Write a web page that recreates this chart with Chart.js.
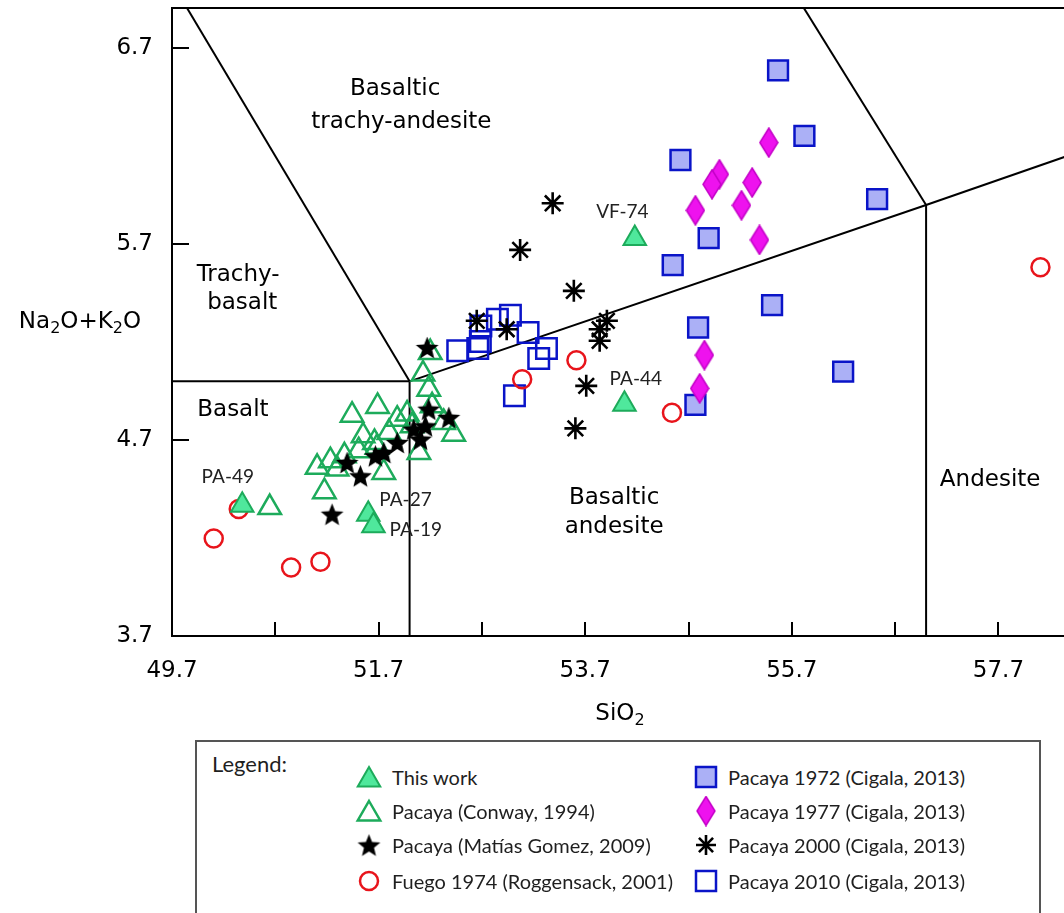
<!DOCTYPE html>
<html><head><meta charset="utf-8">
<script src="https://cdn.jsdelivr.net/npm/chart.js@4/dist/chart.umd.min.js"></script>
<style>
html,body{margin:0;padding:0;background:#fff;width:1064px;height:913px;overflow:hidden;}
#chart{position:absolute;left:0;top:0;}
.axt{position:absolute;font-family:"DejaVu Sans";font-size:23px;color:#000;transform:translate(-50%,-50%);white-space:nowrap;line-height:28px;}
.axt sub{font-size:16px;vertical-align:-5px;line-height:0;}
#legend{position:absolute;left:195px;top:740px;width:846px;height:200px;border:2px solid #555;box-sizing:border-box;font-family:Lato;font-size:20px;color:#1f1f1f;}
#legend .t{position:absolute;line-height:24px;white-space:nowrap;}
#legend canvas{position:absolute;}
</style></head>
<body>
<canvas id="chart" width="1064" height="740"></canvas>
<div class="axt" style="left:620px;top:712px;">SiO<sub>2</sub></div>
<div class="axt" style="left:80px;top:320px;">Na<sub>2</sub>O+K<sub>2</sub>O</div>
<div id="legend"></div>
<script>
// ---------------- DATA ----------------
const xTicks = [49.7, 50.7, 51.7, 52.7, 53.7, 54.7, 55.7, 56.7, 57.7];
const xTickLabels = ['49.7', '', '51.7', '', '53.7', '', '55.7', '', '57.7'];
const yTicks = [3.7, 4.7, 5.7, 6.7];
const yTickLabels = ['3.7', '4.7', '5.7', '6.7'];

// This work (filled green triangles)
const thisWorkSiO2 = [50.38, 51.60, 51.65, 54.18, 54.08];
const thisWorkAlk  = [4.368, 4.322, 4.263, 5.729, 4.883];
const thisWorkIds  = ['PA-49', 'PA-27', 'PA-19', 'VF-74', 'PA-44'];

// Pacaya (Conway, 1994) open triangles
const conwaySiO2 = [50.646, 51.175, 51.105, 51.233, 51.369, 51.443, 51.69, 51.55, 51.66, 51.75, 51.88, 51.976, 51.80, 51.685, 52.09, 52.185, 52.13, 52.218, 52.427, 52.2, 51.298, 51.507, 52.33, 52.024];
const conwayAlk  = [4.356, 4.437, 4.561, 4.595, 4.62, 4.827, 4.872, 4.722, 4.688, 4.535, 4.807, 4.833, 4.739, 4.663, 4.637, 4.96, 5.037, 4.875, 4.73, 5.147, 4.552, 4.646, 4.79, 4.773];

// Pacaya (Matías Gomez, 2009) stars
const gomezSiO2 = [51.25, 51.395, 51.524, 51.669, 51.75, 51.88, 52.105, 52.04, 52.153, 52.185, 52.38, 52.17];
const gomezAlk  = [4.322, 4.586, 4.518, 4.62, 4.637, 4.688, 4.705, 4.756, 4.773, 4.858, 4.816, 5.173];

// Fuego 1974 (Roggensack, 2001) circles
const fuegoSiO2 = [50.346, 50.104, 50.853, 51.137, 53.09, 53.615, 54.54, 58.107];
const fuegoAlk  = [4.348, 4.198, 4.05, 4.079, 5.011, 5.108, 4.84, 5.583];

// Pacaya 1972 (Cigala, 2013) filled squares
const p1972SiO2 = [55.567, 55.822, 54.622, 56.526, 54.895, 54.547, 55.509, 54.793, 56.197, 54.767];
const p1972Alk  = [6.588, 6.253, 6.13, 5.93, 5.731, 5.593, 5.389, 5.275, 5.05, 4.88];

// Pacaya 1977 (Cigala, 2013) diamonds
const p1977SiO2 = [55.477, 54.999, 54.928, 55.316, 54.767, 55.213, 55.387, 54.854, 54.808];
const p1977Alk  = [6.219, 6.057, 6.006, 6.015, 5.873, 5.899, 5.722, 5.134, 4.964];

// Pacaya 2000 (Cigala, 2013) asterisks
const p2000SiO2 = [53.385, 53.07, 53.59, 52.65, 52.94, 53.91, 53.84, 53.84, 53.71, 53.605];
const p2000Alk  = [5.909, 5.671, 5.462, 5.309, 5.266, 5.309, 5.266, 5.207, 4.977, 4.76];

// Pacaya 2010 (Cigala, 2013) open squares
const p2010SiO2 = [52.466, 52.66, 52.685, 52.69, 52.85, 52.976, 53.147, 53.325, 53.25, 53.015];
const p2010Alk  = [5.156, 5.168, 5.204, 5.283, 5.317, 5.338, 5.25, 5.168, 5.117, 4.926];

// TAS field boundaries (SiO2, Na2O+K2O)
const tasBoundaries = [
  [[49.7, 5.0], [52, 5.0]],
  [[52, 3.7], [52, 5.0]],
  [[52, 5.0], [49.4, 7.3]],
  [[52, 5.0], [57, 5.9]],
  [[57, 3.7], [57, 5.9]],
  [[57, 5.9], [53, 9.3]],
  [[57, 5.9], [63, 7.0]]
];
const fieldNames = ['Basaltic', 'trachy-andesite', 'Trachy-', 'basalt', 'Basalt', 'Basaltic', 'andesite', 'Andesite'];

// ---------------- STYLE / LAYOUT ----------------
const fieldAnchors = [[51.86, 6.492], [51.92, 6.324], [50.34, 5.543], [50.38, 5.40], [50.29, 4.854], [53.98, 4.404], [53.98, 4.256], [57.62, 4.496]];
const idAnchors = [[50.24, 4.512], [51.96, 4.394], [52.06, 4.241], [54.06, 5.864], [54.19, 5.012]];

const GREEN = '#1dab5b', GREENFILL = '#4fe89c', RED = '#e8141b', BLUE = '#0a14c8', BLUEFILL = '#abb0f6', MAG = '#ee12ee', MAGB = '#c400c8';

function pts(xs, ys) { return xs.map((x, i) => ({x: x, y: ys[i]})); }

function makeStar(size, R, r) {
  const c = document.createElement('canvas'); c.width = size; c.height = size;
  const g = c.getContext('2d'); g.beginPath();
  for (let i = 0; i < 10; i++) {
    const a = -Math.PI / 2 + i * Math.PI / 5, rr = i % 2 ? r : R;
    g.lineTo(size / 2 + rr * Math.cos(a), size / 2 + 1.2 + rr * Math.sin(a));
  }
  g.closePath(); g.fillStyle = '#000'; g.fill(); return c;
}
function makeDiamond(w, h) {
  const c = document.createElement('canvas'); c.width = w; c.height = h;
  const g = c.getContext('2d'); g.beginPath();
  g.moveTo(w / 2, 1); g.lineTo(w - 1, h / 2); g.lineTo(w / 2, h - 1); g.lineTo(1, h / 2); g.closePath();
  g.fillStyle = MAG; g.fill(); g.lineWidth = 1.5; g.strokeStyle = MAGB; g.stroke(); return c;
}
const starImg = makeStar(25, 12, 5.3);
const diamondImg = makeDiamond(20, 31);

const datasets = [
  {label: 'This work', data: pts(thisWorkSiO2, thisWorkAlk), pointStyle: 'triangle', pointRadius: 13, backgroundColor: GREENFILL, borderColor: GREEN, borderWidth: 2},
  {label: 'Pacaya (Matías Gomez, 2009)', data: pts(gomezSiO2, gomezAlk), pointStyle: starImg, pointRadius: 10},
  {label: 'Pacaya (Conway, 1994)', data: pts(conwaySiO2, conwayAlk), pointStyle: 'triangle', pointRadius: 13, backgroundColor: 'rgba(0,0,0,0)', borderColor: GREEN, borderWidth: 2.5},
  {label: 'Fuego 1974 (Roggensack, 2001)', data: pts(fuegoSiO2, fuegoAlk), pointStyle: 'circle', pointRadius: 9, backgroundColor: 'rgba(0,0,0,0)', borderColor: RED, borderWidth: 2.5},
  {label: 'Pacaya 1977 (Cigala, 2013)', data: pts(p1977SiO2, p1977Alk), pointStyle: diamondImg, pointRadius: 10},
  {label: 'Pacaya 1972 (Cigala, 2013)', data: pts(p1972SiO2, p1972Alk), pointStyle: 'rect', pointRadius: 14, backgroundColor: BLUEFILL, borderColor: BLUE, borderWidth: 2.5},
  {label: 'Pacaya 2000 (Cigala, 2013)', data: pts(p2000SiO2, p2000Alk), pointStyle: 'star', pointRadius: 11, backgroundColor: '#000', borderColor: '#000', borderWidth: 2.6},
  {label: 'Pacaya 2010 (Cigala, 2013)', data: pts(p2010SiO2, p2010Alk), pointStyle: 'rect', pointRadius: 14.5, backgroundColor: 'rgba(0,0,0,0)', borderColor: BLUE, borderWidth: 2.5}
];
tasBoundaries.forEach(seg => datasets.push({
  data: seg.map(p => ({x: p[0], y: p[1]})), showLine: true, pointRadius: 0, borderColor: '#000', borderWidth: 2, fill: false
}));

const framePlugin = {
  id: 'frame',
  beforeDatasetsDraw(chart) {
    const {ctx, chartArea: a, scales: {x, y}} = chart;
    ctx.save(); ctx.strokeStyle = '#000'; ctx.lineWidth = 2;
    ctx.beginPath(); ctx.moveTo(a.left - 1, a.top); ctx.lineTo(a.right + 2, a.top); ctx.stroke();
    ctx.beginPath();
    xTicks.forEach((v, i) => { if (i === 0) return; const p = Math.round(x.getPixelForValue(v)); ctx.moveTo(p, a.bottom); ctx.lineTo(p, a.bottom - 14); });
    yTicks.forEach((v, i) => { if (i === 0) return; const p = Math.round(y.getPixelForValue(v)); ctx.moveTo(a.left, p); ctx.lineTo(a.left + 17, p); });
    ctx.stroke(); ctx.restore();
  },
  afterDraw(chart) {
    const {ctx, scales: {x, y}} = chart;
    ctx.save(); ctx.textAlign = 'center'; ctx.textBaseline = 'middle';
    ctx.fillStyle = '#000'; ctx.font = '23px "DejaVu Sans"';
    fieldNames.forEach((t, i) => ctx.fillText(t, x.getPixelForValue(fieldAnchors[i][0]), y.getPixelForValue(fieldAnchors[i][1])));
    ctx.fillStyle = '#222'; ctx.font = '19px Lato';
    thisWorkIds.forEach((t, i) => ctx.fillText(t, x.getPixelForValue(idAnchors[i][0]), y.getPixelForValue(idAnchors[i][1])));
    ctx.restore();
  }
};

function zeroPad(s) { s.paddingTop = 0; s.paddingBottom = 0; s.paddingLeft = 0; s.paddingRight = 0; }

new Chart(document.getElementById('chart'), {
  type: 'scatter',
  data: {datasets: datasets},
  options: {
    responsive: false, animation: false, devicePixelRatio: 1,
    layout: {autoPadding: false, padding: {left: 0, top: 8, right: 0, bottom: 0}},
    plugins: {legend: {display: false}, tooltip: {enabled: false}},
    scales: {
      x: {
        type: 'linear', min: 49.7, max: 58.335,
        afterBuildTicks: s => { s.ticks = xTicks.map(v => ({value: v})); },
        afterFit: s => { s.height = 104; zeroPad(s); },
        ticks: {callback: (v, i) => xTickLabels[i], autoSkip: false, maxRotation: 0, padding: 21, color: '#000', font: {family: 'DejaVu Sans', size: 23}},
        grid: {display: false, drawTicks: false},
        border: {display: true, color: '#000', width: 2}
      },
      y: {
        type: 'linear', min: 3.7, max: 6.906,
        afterBuildTicks: s => { s.ticks = yTicks.map(v => ({value: v})); },
        afterFit: s => { s.width = 172; zeroPad(s); },
        ticks: {callback: (v, i) => yTickLabels[i], autoSkip: false, padding: 19, color: '#000', font: {family: 'DejaVu Sans', size: 23}},
        grid: {display: false, drawTicks: false},
        border: {display: true, color: '#000', width: 2}
      }
    }
  },
  plugins: [framePlugin]
});

// ---------------- LEGEND (HTML) ----------------
const legendLeft = ['This work', 'Pacaya (Conway, 1994)', 'Pacaya (Matías Gomez, 2009)', 'Fuego 1974 (Roggensack, 2001)'];
const legendRight = ['Pacaya 1972 (Cigala, 2013)', 'Pacaya 1977 (Cigala, 2013)', 'Pacaya 2000 (Cigala, 2013)', 'Pacaya 2010 (Cigala, 2013)'];
const leftKinds = ['triF', 'triO', 'star', 'circ'];
const rightKinds = ['sqF', 'diam', 'ast', 'sqO'];
const rowsY = [777, 811, 845, 881];
const L = document.getElementById('legend');
const OX = 197, OY = 742;
function addText(t, x, yc, size) { const d = document.createElement('div'); d.className = 't'; d.textContent = t; d.style.left = (x - OX) + 'px'; d.style.top = (yc - 12 - OY) + 'px'; if (size) d.style.fontSize = size + 'px'; L.appendChild(d); }
function addIcon(kind, xc, yc) {
  const c = document.createElement('canvas'); c.width = 36; c.height = 36;
  c.style.left = (xc - 18 - OX) + 'px'; c.style.top = (yc - 18 - OY) + 'px'; L.appendChild(c);
  const g = c.getContext('2d'); const x = 18, y = 18;
  if (kind === 'triF' || kind === 'triO') {
    const r = 13, yy = y + 3;
    g.beginPath(); g.moveTo(x, yy - r); g.lineTo(x + 0.866 * r, yy + 0.5 * r); g.lineTo(x - 0.866 * r, yy + 0.5 * r); g.closePath();
    if (kind === 'triF') { g.fillStyle = GREENFILL; g.fill(); g.lineWidth = 2; } else g.lineWidth = 2.5;
    g.strokeStyle = GREEN; g.stroke();
  } else if (kind === 'star') {
    g.drawImage(starImg, x - starImg.width / 2, y - starImg.height / 2);
  } else if (kind === 'circ') {
    g.beginPath(); g.arc(x, y, 9, 0, 2 * Math.PI); g.lineWidth = 2.5; g.strokeStyle = RED; g.stroke();
  } else if (kind === 'sqF' || kind === 'sqO') {
    const s = 10;
    if (kind === 'sqF') { g.fillStyle = BLUEFILL; g.fillRect(x - s, y - s, 2 * s, 2 * s); }
    g.lineWidth = 2.5; g.strokeStyle = BLUE; g.strokeRect(x - s, y - s, 2 * s, 2 * s);
  } else if (kind === 'diam') {
    g.drawImage(diamondImg, x - diamondImg.width / 2, y - diamondImg.height / 2);
  } else if (kind === 'ast') {
    const r = 10; g.strokeStyle = '#000'; g.lineWidth = 2.6; g.beginPath();
    for (let k = 0; k < 4; k++) { const a = k * Math.PI / 4; g.moveTo(x - r * Math.cos(a), y - r * Math.sin(a)); g.lineTo(x + r * Math.cos(a), y + r * Math.sin(a)); }
    g.stroke();
  }
}
addText('Legend:', 212, 764, 22);
legendLeft.forEach((t, i) => { addIcon(leftKinds[i], 369, rowsY[i]); addText(t, 392, rowsY[i]); });
legendRight.forEach((t, i) => { addIcon(rightKinds[i], 706, rowsY[i]); addText(t, 728, rowsY[i]); });
</script>
</body></html>
